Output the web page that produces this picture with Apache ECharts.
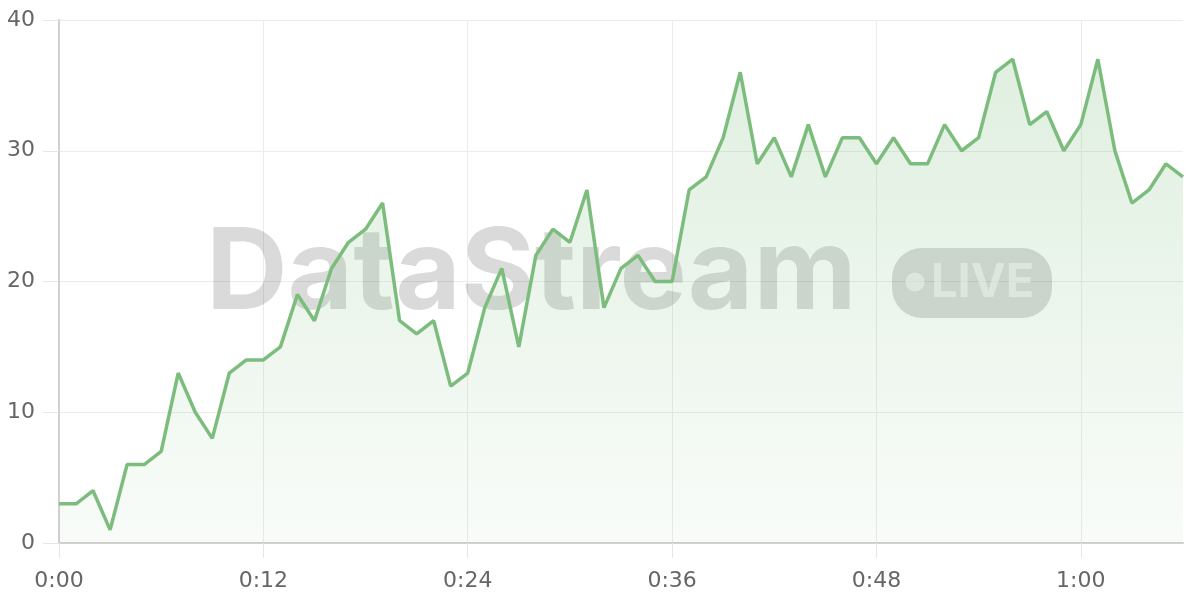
<!DOCTYPE html>
<html>
<head>
<meta charset="utf-8">
<script src="https://cdn.jsdelivr.net/npm/echarts@6/dist/echarts.min.js"></script>
<style>
html,body{margin:0;padding:0;background:#fff;}
#chart{width:1200px;height:600px;}
</style>
</head>
<body>
<div id="chart"></div>
<script>
var categories = ["0:00","0:01","0:02","0:03","0:04","0:05","0:06","0:07","0:08","0:09",
"0:10","0:11","0:12","0:13","0:14","0:15","0:16","0:17","0:18","0:19",
"0:20","0:21","0:22","0:23","0:24","0:25","0:26","0:27","0:28","0:29",
"0:30","0:31","0:32","0:33","0:34","0:35","0:36","0:37","0:38","0:39",
"0:40","0:41","0:42","0:43","0:44","0:45","0:46","0:47","0:48","0:49",
"0:50","0:51","0:52","0:53","0:54","0:55","0:56","0:57","0:58","0:59",
"1:00","1:01","1:02","1:03","1:04","1:05","1:06"];
var values = [3,3,4,1,6,6,7,13,10,8,
13,14,14,15,19,17,21,23,24,26,
17,16,17,12,13,18,21,15,22,24,
23,27,18,21,22,20,20,27,28,31,
36,29,31,28,32,28,31,31,29,31,
29,29,32,30,31,36,37,32,33,30,
32,37,30,26,27,29,28];
var yTicks = [0,10,20,30,40];
var watermarkText = "DataStream";
var badgeText = "LIVE";

var chart = echarts.init(document.getElementById('chart'), null, {renderer:'canvas'});
var labelFont = 'DejaVu Sans';
chart.setOption({
  animation:false,
  backgroundColor:'#ffffff',
  grid:{left:59,right:17,top:20,bottom:57,containLabel:false},
  xAxis:{
    type:'category',
    data:categories,
    boundaryGap:false,
    axisLine:{show:true,lineStyle:{color:'#d0d0d0',width:2}},
    axisTick:{show:true,interval:11,length:15,lineStyle:{color:'#e6e6e6',width:1}},
    axisLabel:{interval:11,margin:27,color:'#666666',fontSize:22,fontFamily:labelFont},
    splitLine:{show:true,interval:11,lineStyle:{color:'#ebebeb',width:1}}
  },
  yAxis:{
    type:'value',
    min:yTicks[0],
    max:yTicks[yTicks.length-1],
    interval:10,
    axisLine:{show:true,lineStyle:{color:'#d0d0d0',width:2}},
    axisTick:{show:true,length:16,lineStyle:{color:'#e6e6e6',width:1}},
    axisLabel:{margin:24,color:'#666666',fontSize:22,fontFamily:labelFont},
    splitLine:{show:true,lineStyle:{color:'#ebebeb',width:1}}
  },
  graphic:{
    elements:[
      {type:'text',z:1,
       style:{x:206,y:275,text:watermarkText,fontSize:113,fontWeight:'bold',fontFamily:'Inter',
              fill:'rgba(0,0,0,0.145)',textAlign:'left',textVerticalAlign:'middle',align:'left',verticalAlign:'middle'}},
      {type:'rect',z:1,shape:{x:892,y:248,width:160,height:70,r:30},
       style:{fill:'rgba(0,0,0,0.15)'}},
      {type:'circle',z:1,shape:{cx:915,cy:282,r:9.5},
       style:{fill:'rgba(255,255,255,0.55)'}},
      {type:'text',z:1,
       style:{x:931,y:283,text:badgeText,fontSize:47,fontWeight:'bold',fontFamily:'Inter',
              fill:'rgba(255,255,255,0.55)',textAlign:'left',textVerticalAlign:'middle',align:'left',verticalAlign:'middle'}}
    ]
  },
  series:[{
    type:'line',
    data:values,
    showSymbol:false,
    symbol:'none',
    smooth:false,
    z:3,
    lineStyle:{color:'#7cbd7e',width:3.5},
    areaStyle:{
      color:new echarts.graphic.LinearGradient(0,0,0,1,[
        {offset:0,color:'rgba(124,189,126,0.34)'},
        {offset:1,color:'rgba(124,189,126,0.07)'}
      ])
    }
  }]
});
</script>
</body>
</html>
